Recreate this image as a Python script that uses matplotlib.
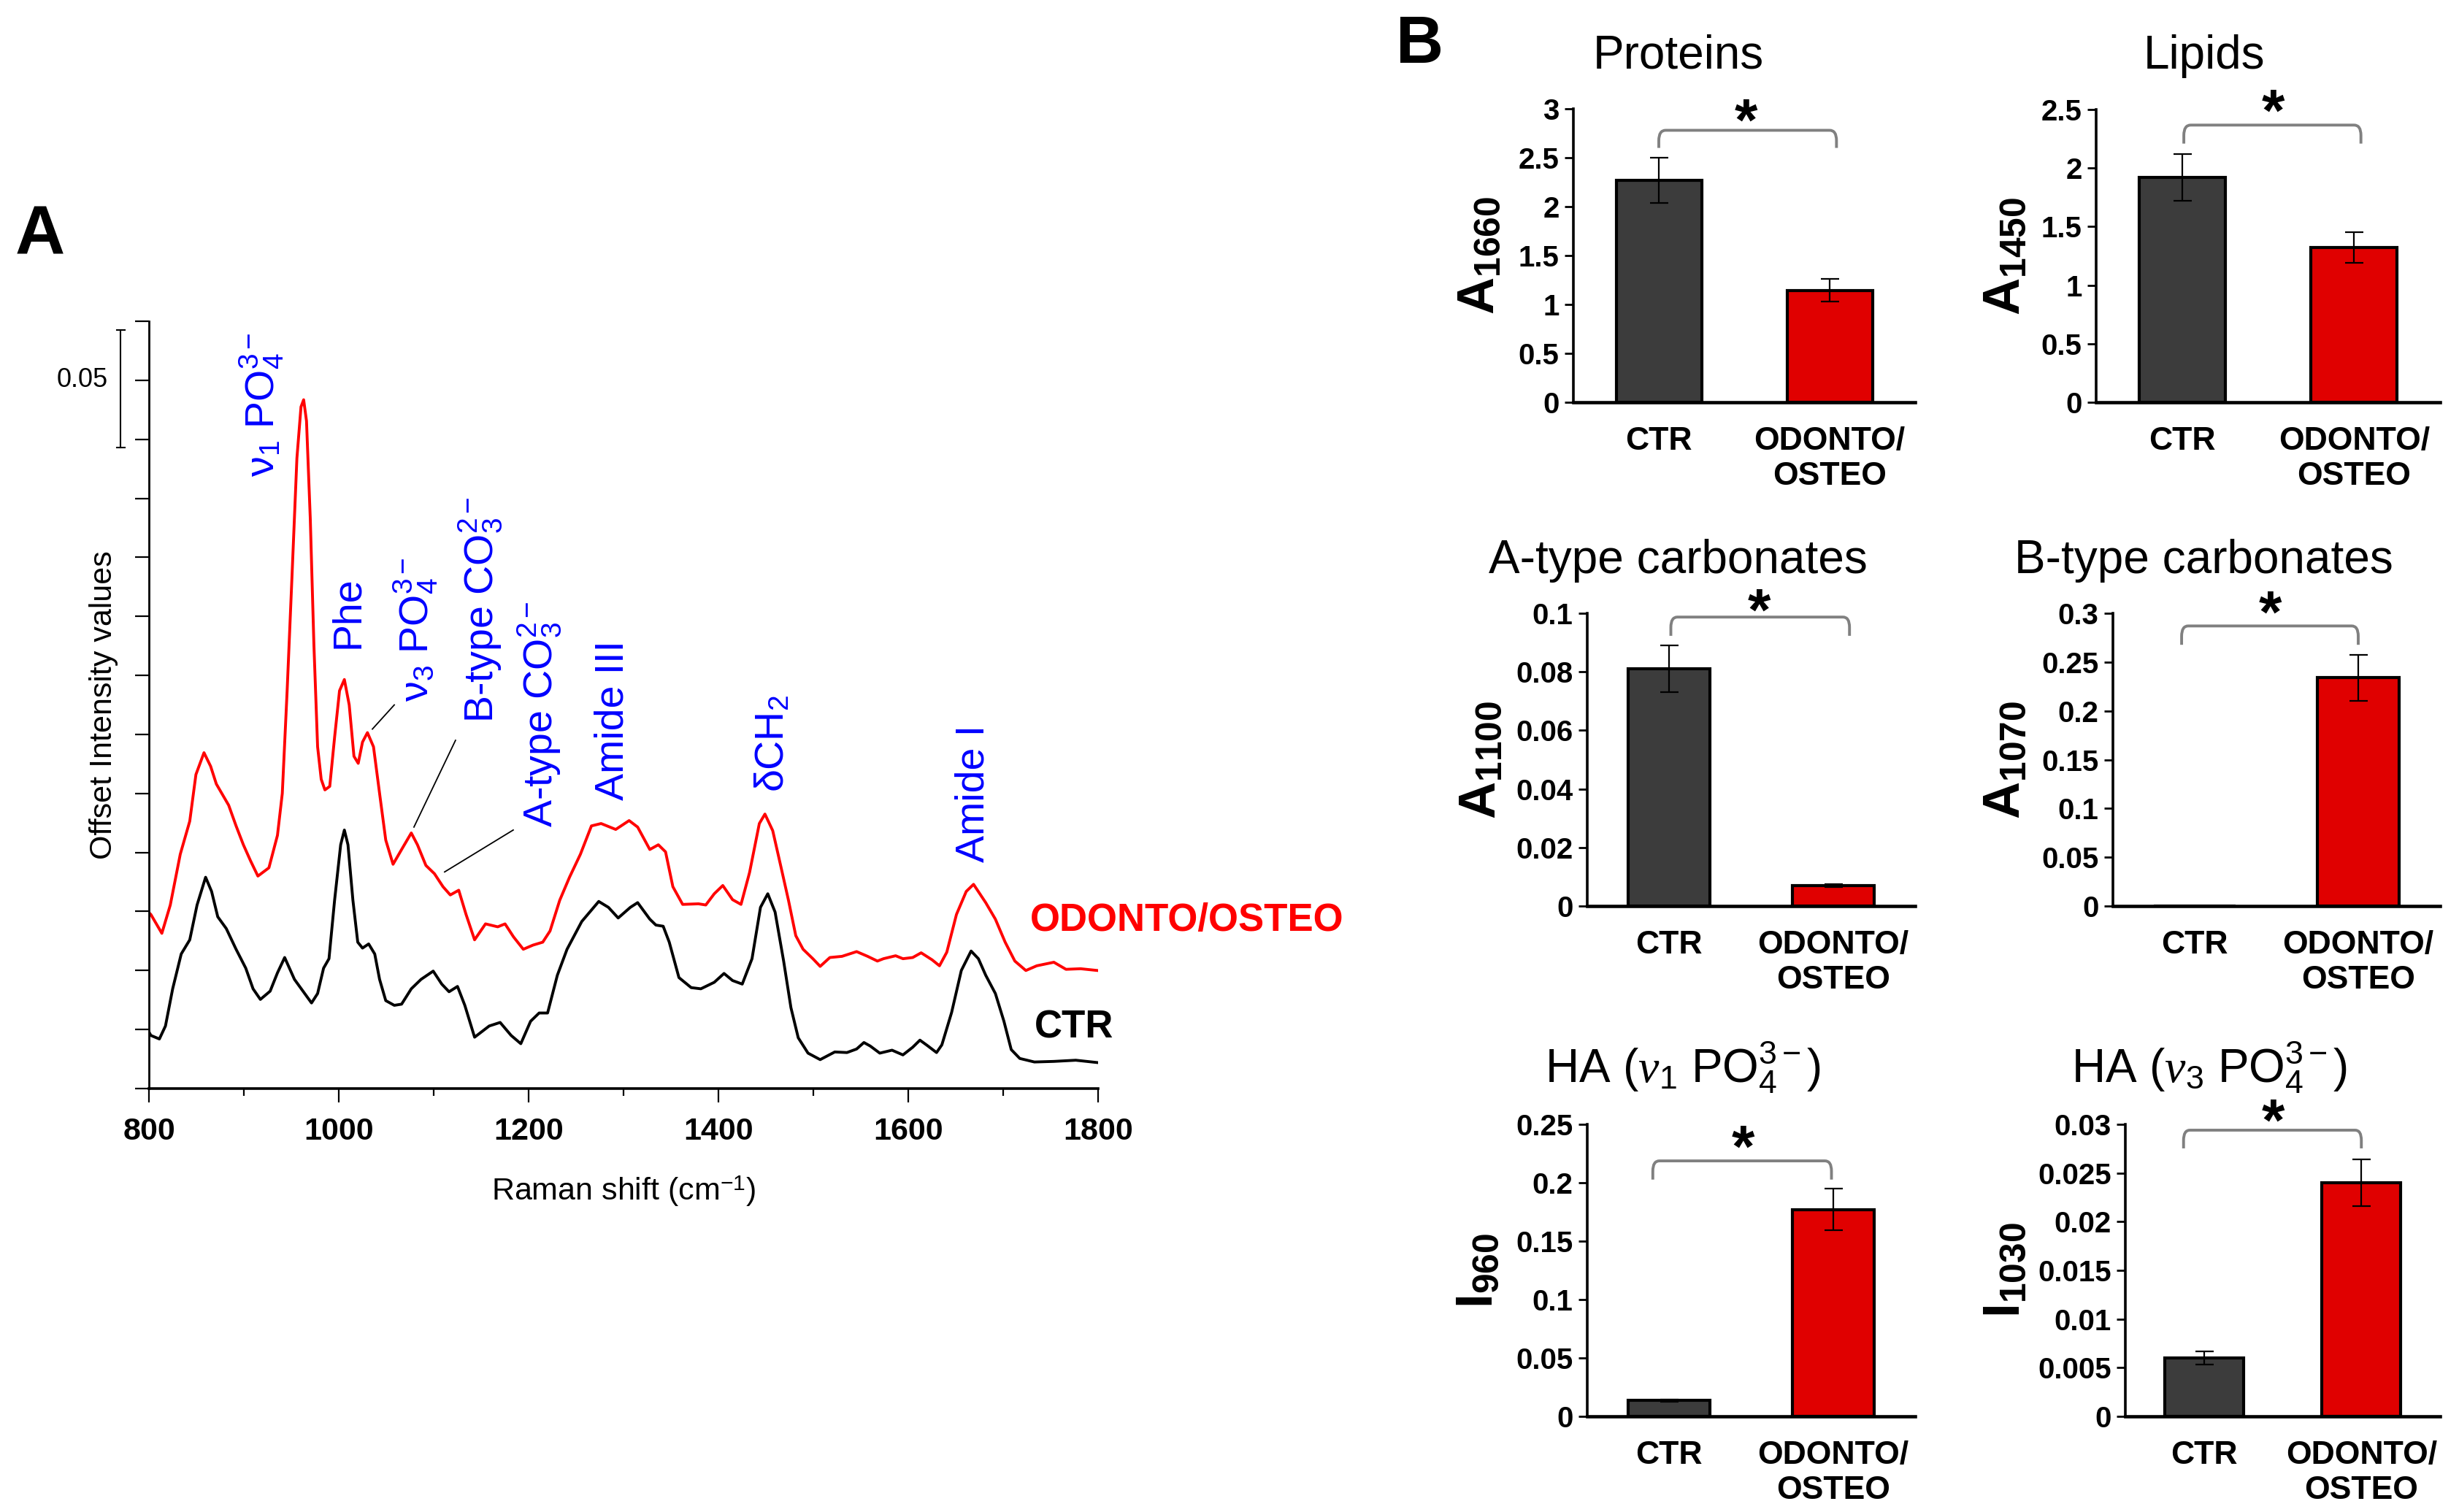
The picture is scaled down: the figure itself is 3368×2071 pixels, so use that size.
import numpy as np
import matplotlib
matplotlib.use('Agg')
import matplotlib.pyplot as plt
from matplotlib import font_manager
from matplotlib.path import Path
from matplotlib.patches import PathPatch

W, H = 3368, 2071

names = {f.name for f in font_manager.fontManager.ttflist}
SANS = 'Liberation Sans' if 'Liberation Sans' in names else 'DejaVu Sans'
plt.rcParams['font.family'] = [SANS, 'DejaVu Sans']
plt.rcParams['mathtext.fontset'] = 'custom'
plt.rcParams['mathtext.rm'] = SANS
plt.rcParams['mathtext.bf'] = SANS + ':bold'
plt.rcParams['mathtext.it'] = 'Liberation Serif:italic'

# ---------------- panel A data (Raman spectra, offset units: 1 tick = 0.025) ----------------
TICK = 0.025
odo_x = [800, 802, 813.6, 822.5, 833, 843, 849.5, 858, 865, 871, 884, 891.8, 899.5, 907, 914.8,
         926.4, 935.4, 940.5, 945.6, 950.8, 955.9, 960.2, 963, 966, 970, 973.8, 977.7, 981.5,
         985.4, 990.5, 995.6, 1000.8, 1005.9, 1011, 1016, 1020.5, 1025, 1030.2, 1036.6, 1043,
         1049.5, 1057.2, 1066.2, 1076.4, 1082.9, 1091.8, 1100.8, 1109.8, 1117.5, 1126.4, 1134.1,
         1143.1, 1154.6, 1167.5, 1175.2, 1184.1, 1194.4, 1204.6, 1214.9, 1222.6, 1232.8, 1243.1,
         1254.6, 1266.2, 1276.4, 1291.8, 1305.9, 1314.9, 1327.7, 1336.7, 1344.3, 1352, 1362.3,
         1379, 1386.7, 1395.6, 1404.6, 1414.9, 1423.8, 1432.8, 1443.1, 1449, 1457.2, 1466.1,
         1473.8, 1481.5, 1489.2, 1499.5, 1507.2, 1517.4, 1530.2, 1545.6, 1557.2, 1567.5, 1573.9,
         1586.7, 1594.4, 1604.7, 1613.6, 1625.2, 1632.9, 1640.6, 1650.8, 1661.1, 1668.8, 1681.6,
         1691.8, 1702.1, 1712.3, 1723.9, 1735.4, 1753.4, 1766.2, 1781.6, 1799.5]
odo_u = [2.98, 2.95, 2.63, 3.11, 3.97, 4.53, 5.32, 5.69, 5.46, 5.16, 4.80, 4.45, 4.13, 3.86, 3.60,
         3.74, 4.29, 5.0, 6.74, 8.71, 10.68, 11.55, 11.67, 11.31, 9.65, 7.52, 5.79, 5.24,
         5.06, 5.12, 5.95, 6.74, 6.93, 6.50, 5.63, 5.51, 5.87, 6.03, 5.79, 5.0,
         4.21, 3.80, 4.05, 4.33, 4.13, 3.78, 3.64, 3.42, 3.28, 3.36, 2.95,
         2.52, 2.79, 2.74, 2.79, 2.57, 2.36, 2.43, 2.48, 2.67, 3.19, 3.58,
         3.97, 4.45, 4.49, 4.39, 4.54, 4.43, 4.05, 4.13, 4.01, 3.42, 3.12,
         3.13, 3.11, 3.30, 3.44, 3.20, 3.12, 3.66, 4.49, 4.65, 4.37, 3.74,
         3.19, 2.59, 2.36, 2.20, 2.07, 2.22, 2.24, 2.32, 2.24, 2.16, 2.20,
         2.25, 2.20, 2.22, 2.30, 2.18, 2.08, 2.31, 2.95, 3.34, 3.46, 3.15,
         2.87, 2.48, 2.16, 2.00, 2.08, 2.14, 2.02, 2.03, 2.00]
ctr_x = [800, 802, 811, 817.4, 825, 834, 843, 850.7, 859.7, 866, 872.5, 881.5, 891.8, 902, 909.7,
         917.4, 927.7, 935.4, 943, 953.3, 962.3, 971.3, 977.7, 984, 989.7, 995.6, 1002, 1005.9,
         1009.7, 1014.9, 1020, 1025, 1031.5, 1037.9, 1043, 1049.5, 1058.5, 1066.2, 1076.4,
         1086.7, 1099.5, 1108.5, 1116.2, 1125.1, 1132.8, 1143.1, 1158.5, 1170, 1181.6, 1191.8,
         1202.1, 1211.1, 1220, 1230.3, 1240.5, 1256, 1273.9, 1284.1, 1294.4, 1307.2, 1314.9,
         1327.7, 1334.1, 1341.8, 1348.2, 1358.4, 1371.3, 1381.5, 1395.6, 1405.9, 1414.9, 1425.1,
         1435.4, 1444.3, 1452, 1459.7, 1468.7, 1476.4, 1484.1, 1494.4, 1507.2, 1522.6, 1535.4,
         1545.6, 1553.3, 1560, 1570, 1582.9, 1594.4, 1604.7, 1612.3, 1620, 1629.8, 1635.4,
         1645.7, 1655.9, 1666.2, 1673.9, 1681.6, 1691.8, 1700.8, 1708.5, 1717.5, 1732.9,
         1753.4, 1776.5, 1799.5]
ctr_u = [0.96, 0.90, 0.84, 1.06, 1.69, 2.28, 2.52, 3.11, 3.58, 3.34, 2.91, 2.71, 2.36, 2.04, 1.69,
         1.51, 1.65, 1.96, 2.22, 1.85, 1.65, 1.45, 1.61, 2.04, 2.20, 3.19, 4.13, 4.38,
         4.13, 3.19, 2.48, 2.38, 2.45, 2.28, 1.85, 1.49, 1.41, 1.43, 1.69,
         1.85, 1.99, 1.77, 1.64, 1.73, 1.41, 0.87, 1.06, 1.12, 0.90, 0.76,
         1.14, 1.28, 1.28, 1.92, 2.36, 2.83, 3.17, 3.07, 2.89, 3.07, 3.15,
         2.87, 2.77, 2.75, 2.48, 1.88, 1.71, 1.69, 1.80, 1.95, 1.83, 1.77,
         2.20, 3.07, 3.30, 2.99, 2.16, 1.37, 0.86, 0.60, 0.49, 0.62, 0.61,
         0.67, 0.78, 0.72, 0.60, 0.65, 0.57, 0.70, 0.82, 0.73, 0.61, 0.74,
         1.29, 2.00, 2.33, 2.20, 1.92, 1.61, 1.14, 0.66, 0.51, 0.45,
         0.46, 0.48, 0.44]

band_labels = ['ν$_1$ PO$_4^{3-}$', 'Phe', 'ν$_3$ PO$_4^{3-}$', 'B-type CO$_3^{2-}$',
               'A-type CO$_3^{2-}$', 'Amide III', 'δCH$_2$', 'Amide I']
band_x = [918.5, 1010, 1080.8, 1149, 1211.5, 1288.5, 1457.7, 1669]
band_u = [10.36, 7.46, 6.56, 6.20, 4.43, 4.89, 5.02, 3.83]
leaders = [((1035.4, 6.09), (1058.5, 6.50)),
           ((1079.2, 4.43), (1123, 5.90)),
           ((1111.5, 3.67), (1183.8, 4.38))]

# ---------------- panel B data ----------------
titles = ['Proteins', 'Lipids', 'A-type carbonates', 'B-type carbonates',
          r'HA ($\nu_1$ PO$_4^{3-}$)', r'HA ($\nu_3$ PO$_4^{3-}$)']
ylabels = [r'$\mathbf{A}_{\mathbf{1660}}$', r'$\mathbf{A}_{\mathbf{1450}}$',
           r'$\mathbf{A}_{\mathbf{1100}}$', r'$\mathbf{A}_{\mathbf{1070}}$',
           r'$\mathbf{I}_{\mathbf{960}}$', r'$\mathbf{I}_{\mathbf{1030}}$']
groups = ['CTR', 'ODONTO/\nOSTEO']
ctr_mean = [2.27, 1.92, 0.081, 0.0, 0.0135, 0.0060]
ctr_err = [0.23, 0.20, 0.008, 0.0, 0.001, 0.00065]
odo_mean = [1.145, 1.32, 0.007, 0.234, 0.177, 0.024]
odo_err = [0.115, 0.13, 0.0006, 0.0235, 0.0177, 0.0024]
y_max = [3, 2.5, 0.1, 0.3, 0.25, 0.03]
y_step = [0.5, 0.5, 0.02, 0.05, 0.05, 0.005]
# significance bracket: left x, right x, top, leg end, star x, star y
brackets = [(0.0, 1.04, 2.78, 2.60, 0.51, 2.96),
            (0.01, 1.04, 2.367, 2.209, 0.53, 2.556),
            (0.01, 1.10, 0.0987, 0.0923, 0.55, 0.1037),
            (-0.08, 1.0, 0.287, 0.2677, 0.46, 0.309),
            (-0.10, 0.99, 0.2187, 0.2027, 0.45, 0.2374),
            (-0.13, 1.0, 0.0294, 0.02753, 0.44, 0.0312)]

# axes boxes in pixels: left, top, right, bottom
boxes = [(2155, 149, 2623, 551), (2871, 150, 3342, 551),
         (2174, 840, 2623, 1241), (2894, 840, 3342, 1241),
         (2174, 1540, 2623, 1940), (2911, 1540, 3342, 1940)]
title_pos = [(2299, 94), (3019, 94), (2298, 785), (3018, 785), (2305, 1483), (3026, 1483)]
ylab_x = [2028, 2748, 2030, 2748, 2026, 2748]


def px_axes(fig, l, t, r, b):
    return fig.add_axes([l / W, 1 - b / H, (r - l) / W, (b - t) / H])


fig = plt.figure(figsize=(W / 100, H / 100), dpi=100)

# ---------------- panel A ----------------
ax = px_axes(fig, 204, 440, 1504, 1491)
ax.plot(odo_x, np.array(odo_u) * TICK, color='#ff0000', lw=2.8)
ax.plot(ctr_x, np.array(ctr_u) * TICK, color='black', lw=2.8)
ax.set_xlim(800, 1800)
ax.set_ylim(0, 13 * TICK)
ax.set_xticks(np.arange(800, 1801, 200))
ax.set_xticks(np.arange(900, 1800, 200), minor=True)
ax.set_yticks(np.arange(0, 13.5) * TICK)
ax.set_yticklabels([])
for s in ['top', 'right']:
    ax.spines[s].set_visible(False)
ax.spines['left'].set_linewidth(2)
ax.spines['bottom'].set_linewidth(2.6)
ax.tick_params(axis='y', direction='out', length=14, width=1.6)
ax.tick_params(axis='x', which='major', direction='out', length=14, width=1.6, pad=14)
ax.tick_params(axis='x', which='minor', direction='out', length=7, width=1.6)
for lbl in ax.get_xticklabels():
    lbl.set_fontsize(31)
    lbl.set_fontweight('bold')
ax.set_xlabel('Raman shift (cm$^{-1}$)', fontsize=31, labelpad=28)
ax.set_ylabel('Offset Intensity values', fontsize=31, labelpad=13)

for lab, bx, bu in zip(band_labels, band_x, band_u):
    ax.text(bx, bu * TICK, lab, rotation=90, ha='center', va='bottom',
            color='#0000ff', fontsize=40)
for (x0, u0), (x1, u1) in leaders:
    ax.plot([x0, x1], [u0 * TICK, u1 * TICK], color='black', lw=1.3)

# scale bar of 0.05
ax.plot([770, 770], [10.86 * TICK, 12.85 * TICK], color='black', lw=1.5, clip_on=False)
for yy in [10.86, 12.85]:
    ax.plot([766, 774.5], [yy * TICK, yy * TICK], color='black', lw=1.5, clip_on=False)
ax.text(757, 12 * TICK, '0.05', ha='right', va='center', fontsize=26)

ax.text(1728.5, 2.67 * TICK, 'ODONTO/OSTEO', color='#ff0000', fontsize=38,
        fontweight='bold', ha='left', va='baseline', clip_on=False)
ax.text(1733, 0.86 * TICK, 'CTR', color='black', fontsize=38,
        fontweight='bold', ha='left', va='baseline', clip_on=False)

fig.text(21 / W, 1 - 348 / H, 'A', fontsize=68, fontweight='bold', ha='left', va='baseline')
fig.text(1912 / W, 1 - 86 / H, 'B', fontsize=65, fontweight='bold', ha='left', va='baseline')

# ---------------- panel B ----------------
for i in range(6):
    l, t, r, b = boxes[i]
    bx = px_axes(fig, l, t, r, b)
    bx.bar([0, 1], [ctr_mean[i], odo_mean[i]], width=0.5, color=['#3c3c3c', '#e00000'],
           edgecolor='black', linewidth=3, zorder=2)
    for xi, m, e in [(0, ctr_mean[i], ctr_err[i]), (1, odo_mean[i], odo_err[i])]:
        if e > 0:
            bx.errorbar(xi, m, yerr=e, color='black', elinewidth=1.6, capsize=9,
                        capthick=1.6, zorder=3)
    bx.set_xlim(-0.5, 1.5)
    bx.set_ylim(0, y_max[i])
    ticks = np.arange(0, y_max[i] + y_step[i] / 2, y_step[i])
    bx.set_yticks(ticks, [f'{round(v, 6):g}' for v in ticks], fontsize=29, fontweight='bold')
    bx.set_xticks([0, 1], groups, fontsize=32, fontweight='bold', linespacing=1.2)
    bx.tick_params(axis='y', direction='out', length=9, width=2, pad=5)
    bx.tick_params(axis='x', length=0, pad=24)
    for s in ['top', 'right']:
        bx.spines[s].set_visible(False)
    bx.spines['left'].set_linewidth(2.6)
    bx.spines['bottom'].set_linewidth(3.3)
    bx.spines['bottom'].set_zorder(4)

    # bracket with rounded corners
    x0, x1, yt, yl, sx, sy = brackets[i]
    rx = 0.04
    ry = 0.035 * y_max[i]
    verts = [(x0, yl), (x0, yt - ry), (x0, yt), (x0 + rx, yt), (x1 - rx, yt), (x1, yt),
             (x1, yt - ry), (x1, yl)]
    codes = [Path.MOVETO, Path.LINETO, Path.CURVE3, Path.CURVE3, Path.LINETO, Path.CURVE3,
             Path.CURVE3, Path.LINETO]
    bx.add_patch(PathPatch(Path(verts, codes), facecolor='none', edgecolor='#808080',
                           lw=2.8, clip_on=False, zorder=3))
    bx.annotate('*', (sx, sy), xytext=(0, -27), textcoords='offset points', ha='center',
                va='baseline', fontsize=58, fontweight='bold', annotation_clip=False)

    tx, ty = title_pos[i]
    fig.text(tx / W, 1 - ty / H, titles[i], fontsize=46, ha='center', va='baseline')
    fig.text(ylab_x[i] / W, 1 - (t + b) / 2 / H, ylabels[i], fontsize=51, rotation=90,
             ha='center', va='center')

fig.savefig('out.png', dpi=100)
